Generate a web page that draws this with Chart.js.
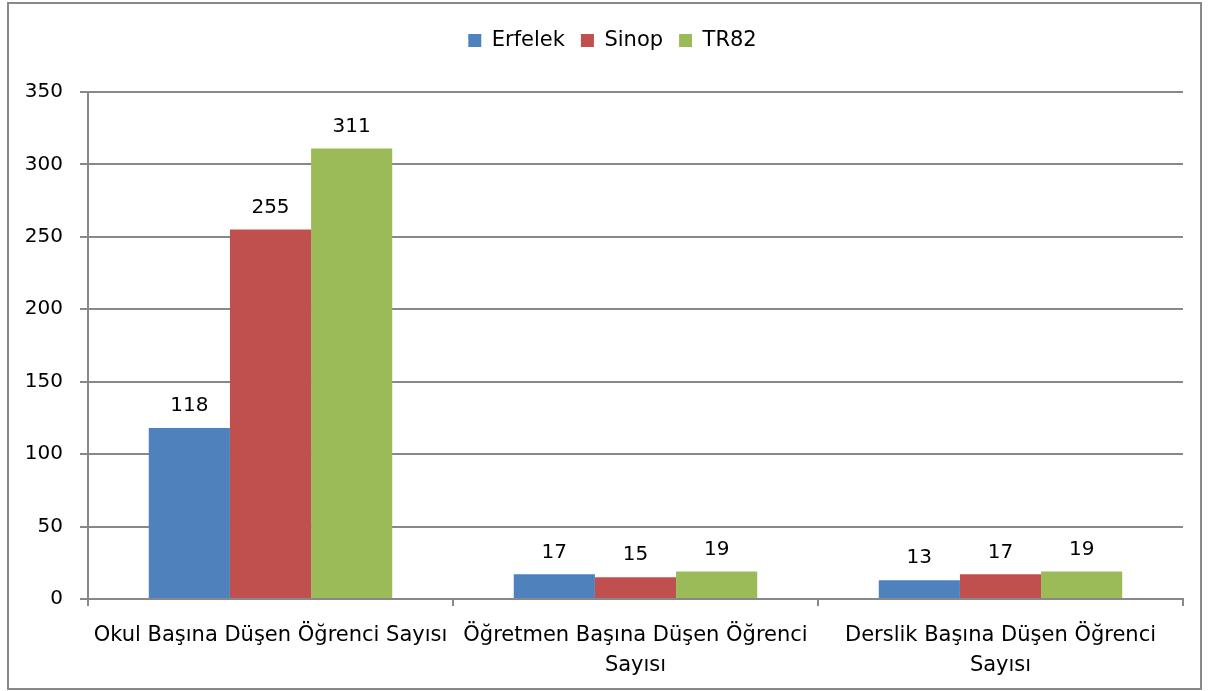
<!DOCTYPE html>
<html>
<head>
<meta charset="utf-8">
<script src="https://cdn.jsdelivr.net/npm/chart.js@4/dist/chart.umd.min.js"></script>
<style>
	body { margin: 0; background: #fff; }
	#wrap { width: 1210px; height: 691px; }
</style>
</head>
<body>
<div id="wrap"><canvas id="eduChart" width="1210" height="691"></canvas></div>
<script>
// Categories and series values
const categories = [
	'Okul Başına Düşen Öğrenci Sayısı',
	['Öğretmen Başına Düşen Öğrenci', 'Sayısı'],
	['Derslik Başına Düşen Öğrenci', 'Sayısı']
];
const erfelek = [118, 17, 13];
const sinop = [255, 15, 17];
const tr82 = [311, 19, 19];
const yTicks = [0, 50, 100, 150, 200, 250, 300, 350];

const fontFamily = '"DejaVu Sans", sans-serif';
const gridColor = '#888888';

// Draws the value above each bar
const valueLabels = {
	id: 'valueLabels',
	afterDatasetsDraw(chart) {
		const ctx = chart.ctx;
		ctx.save();
		ctx.font = '20px ' + fontFamily;
		ctx.fillStyle = '#000';
		ctx.textAlign = 'center';
		ctx.textBaseline = 'middle';
		chart.data.datasets.forEach((ds, i) => {
			chart.getDatasetMeta(i).data.forEach((bar, j) => {
				ctx.fillText(ds.data[j], bar.x, bar.y - 22);
			});
		});
		ctx.restore();
	}
};

// Outer frame around the whole chart
const outerFrame = {
	id: 'outerFrame',
	afterDraw(chart) {
		const ctx = chart.ctx;
		ctx.save();
		ctx.strokeStyle = gridColor;
		ctx.lineWidth = 2;
		ctx.strokeRect(8, 3, 1193, 686);
		ctx.restore();
	}
};

// More room under the legend, and nudge it a bit to the right
const legendGap = {
	id: 'legendGap',
	afterInit(chart) {
		const legend = chart.legend;
		const fit = legend.fit;
		legend.fit = function() {
			fit.call(this);
			this.height += 31;
		};
	},
	afterLayout(chart) {
		chart.legend.left += 21;
		chart.legend.right += 21;
	}
};

new Chart(document.getElementById('eduChart'), {
	type: 'bar',
	data: {
		labels: categories,
		datasets: [
			{label: 'Erfelek', data: erfelek, backgroundColor: '#4F81BD'},
			{label: 'Sinop', data: sinop, backgroundColor: '#C0504D'},
			{label: 'TR82', data: tr82, backgroundColor: '#9BBB59'}
		]
	},
	options: {
		responsive: false,
		animation: false,
		layout: {
			padding: {top: 14, right: 27, left: 0, bottom: 0}
		},
		datasets: {
			bar: {
				categoryPercentage: 0.667,
				barPercentage: 1.0
			}
		},
		plugins: {
			legend: {
				position: 'top',
				labels: {
					boxWidth: 13,
					boxHeight: 13,
					padding: 16,
					color: '#000',
					font: {family: fontFamily, size: 21}
				}
			},
			tooltip: {enabled: false}
		},
		scales: {
			x: {
				grid: {
					offset: true,
					drawOnChartArea: false,
					color: gridColor,
					lineWidth: 2,
					tickLength: 7
				},
				border: {color: gridColor, width: 2},
				ticks: {
					color: '#000',
					padding: 15,
					maxRotation: 0,
					autoSkip: false,
					font: {family: fontFamily, size: 21, lineHeight: 1.4}
				},
				afterFit(scale) { scale.height = 92; }
			},
			y: {
				min: 0,
				max: 350,
				afterBuildTicks(scale) {
					scale.ticks = yTicks.map(v => ({value: v}));
				},
				grid: {
					color: gridColor,
					lineWidth: 2,
					tickLength: 8
				},
				border: {color: gridColor, width: 2},
				ticks: {
					color: '#000',
					padding: 17,
					font: {family: fontFamily, size: 20}
				},
				afterFit(scale) { scale.width = 88; }
			}
		}
	},
	plugins: [legendGap, valueLabels, outerFrame]
});
</script>
</body>
</html>
